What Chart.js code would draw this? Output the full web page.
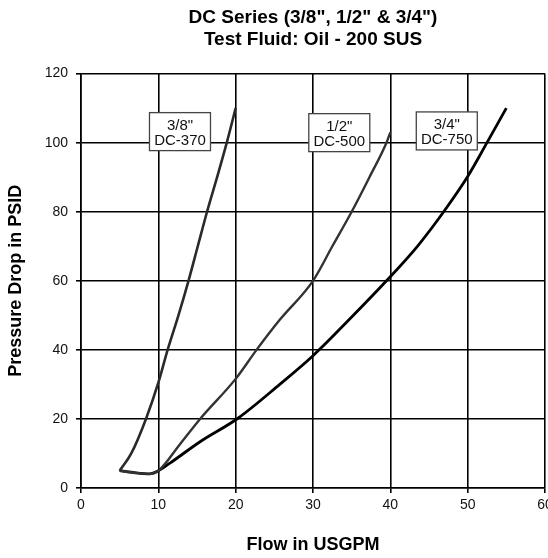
<!DOCTYPE html>
<html>
<head>
<meta charset="utf-8">
<script src="https://cdn.jsdelivr.net/npm/chart.js@4.4.1/dist/chart.umd.min.js"></script>
<style>
  html, body { margin: 0; padding: 0; background: #fff; }
  #wrap { width: 548px; height: 558px; }
</style>
</head>
<body>
<div id="wrap"><canvas id="chart" width="548" height="558"></canvas></div>
<script>
// Flow (USGPM) vs pressure drop (PSID)
const flow38 = [5, 6.5, 8.4, 10, 11.2, 12.6, 13.9, 15.1, 16.3, 17.6, 18.85, 20];
const psid38 = [5, 10, 20, 30.5, 40, 50, 60, 70, 80, 90, 100, 110];

const flow12 = [5, 7, 8.9, 10, 12.8, 15.4, 20, 22.7, 25.7, 30, 32.5, 35, 37.3, 39.5, 40];
const psid12 = [5, 4.4, 4.1, 5, 12.7, 20, 31.6, 40, 48.7, 60, 70, 80, 90, 100, 103];

const flow34 = [5, 7, 8.9, 10, 11.5, 15.4, 20.3, 25.7, 30, 35, 39.5, 43.5, 46.9, 50, 52.5, 55];
const psid34 = [5, 4.4, 4.1, 5, 7.2, 13.4, 20.2, 30, 38.3, 49.5, 60, 70, 80, 90.2, 100, 110];

const seriesNames = ['3/8" DC-370', '1/2" DC-500', '3/4" DC-750'];
const boxLines = [['3/8"', 'DC-370'], ['1/2"', 'DC-500'], ['3/4"', 'DC-750']];
const boxAt = [[12.8, 103.2], [33.4, 102.9], [47.3, 103.4]];

const xTicks = [0, 10, 20, 30, 40, 50, 60];
const yTicks = [0, 20, 40, 60, 80, 100, 120];

const FONT = '"Liberation Sans", Arial, Helvetica, sans-serif';

function toPoints(xs, ys) {
    return xs.map((x, i) => ({ x: x, y: ys[i] }));
}

// draws the white label boxes on top of the grid
const boxPlugin = {
    id: 'boxes',
    afterDatasetsDraw(chart) {
        const ctx = chart.ctx;
        const xs = chart.scales.x, ys = chart.scales.y;
        ctx.save();
        ctx.font = '15px ' + FONT;
        ctx.textAlign = 'center';
        ctx.textBaseline = 'middle';
        boxLines.forEach((lines, i) => {
            const cx = xs.getPixelForValue(boxAt[i][0]);
            const cy = ys.getPixelForValue(boxAt[i][1]);
            const w = 61, h = 38;
            ctx.fillStyle = '#fff';
            ctx.fillRect(cx - w / 2, cy - h / 2, w, h);
            ctx.strokeStyle = '#444';
            ctx.lineWidth = 1.3;
            ctx.strokeRect(cx - w / 2, cy - h / 2, w, h);
            ctx.fillStyle = '#111';
            ctx.fillText(lines[0], cx, cy - 6);
            ctx.fillText(lines[1], cx, cy + 9);
        });
        ctx.restore();
    }
};

new Chart(document.getElementById('chart').getContext('2d'), {
    type: 'scatter',
    data: {
        datasets: [
            { label: seriesNames[0], data: toPoints(flow38, psid38), borderColor: '#2a2a2a', borderWidth: 2.6 },
            { label: seriesNames[1], data: toPoints(flow12, psid12), borderColor: '#333', borderWidth: 2.4 },
            { label: seriesNames[2], data: toPoints(flow34, psid34), borderColor: '#000', borderWidth: 2.8 }
        ].map(d => Object.assign(d, {
            showLine: true, pointRadius: 0, cubicInterpolationMode: 'monotone', fill: false
        }))
    },
    options: {
        responsive: false,
        animation: false,
        layout: { padding: { left: 0, right: 3, top: 0, bottom: 0 } },
        plugins: {
            legend: { display: false },
            tooltip: { enabled: false },
            title: {
                display: true,
                fullSize: false,
                text: ['DC Series (3/8", 1/2" & 3/4")', 'Test Fluid: Oil - 200 SUS'],
                color: '#000',
                font: { family: FONT, size: 19, weight: 'bold', lineHeight: 1.2 },
                padding: { top: 6, bottom: 22 }
            }
        },
        scales: {
            x: {
                type: 'linear', min: 0, max: 60,
                afterBuildTicks: s => { s.ticks = xTicks.map(v => ({ value: v })); },
                afterFit: s => { s.height = 70; s.paddingLeft = 0; s.paddingRight = 0; },
                grid: { color: '#000', lineWidth: 1.6, tickLength: 5, drawTicks: true },
                border: { color: '#000', width: 1.6 },
                ticks: { color: '#111', font: { family: FONT, size: 14 }, padding: 4, maxRotation: 0 },
                title: {
                    display: true, text: 'Flow in USGPM', color: '#000',
                    font: { family: FONT, size: 18, weight: 'bold' }, padding: { top: 10, bottom: 2 }
                }
            },
            y: {
                type: 'linear', min: 0, max: 120,
                afterBuildTicks: s => { s.ticks = yTicks.map(v => ({ value: v })); },
                afterFit: s => { s.width = 81; s.paddingTop = 0; s.paddingBottom = 0; },
                grid: { color: '#000', lineWidth: 1.6, tickLength: 5 },
                border: { color: '#000', width: 1.6 },
                ticks: { color: '#111', font: { family: FONT, size: 14 }, padding: 8 },
                title: {
                    display: true, text: 'Pressure Drop in PSID', color: '#000',
                    font: { family: FONT, size: 18, weight: 'bold' }, padding: { top: 5, bottom: 12 }
                }
            }
        }
    },
    plugins: [boxPlugin]
});
</script>
</body>
</html>
